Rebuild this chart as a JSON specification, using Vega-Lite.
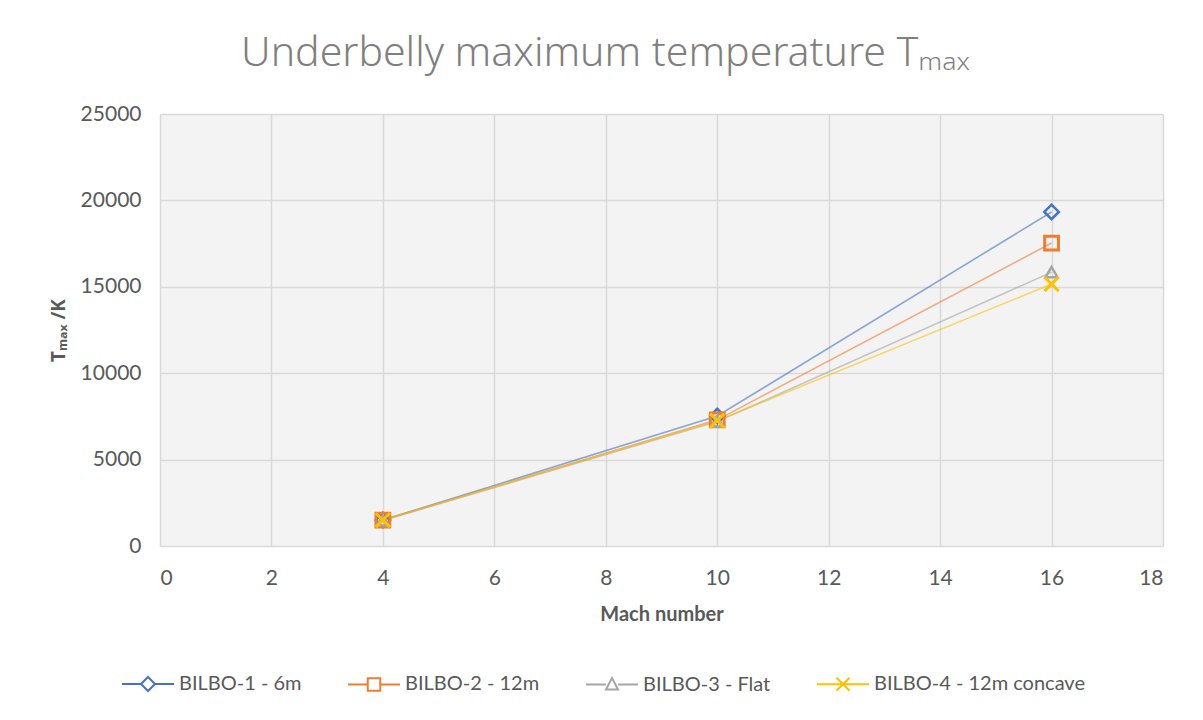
{
  "$schema": "https://vega.github.io/schema/vega-lite/v6.json",
  "autosize": {"type": "none"},
  "width": 1003,
  "height": 432,
  "padding": {"left": 160, "top": 114, "right": 40, "bottom": 174},
  "background": "white",
  "config": {
    "font": "Lato",
    "view": {"fill": "#f3f3f3", "stroke": null},
    "axis": {"labelColor": "#595959", "titleColor": "#595959", "gridColor": "#d9d9d9", "gridWidth": 1.5, "domain": false, "ticks": false}
  },
  "title": {
    "text": "Underbelly maximum temperature Tₘₐₓ",
    "font": "Noto Sans",
    "fontSize": 41,
    "fontWeight": 300,
    "color": "#7f7f7f",
    "anchor": "middle",
    "dx": -56,
    "offset": 28
  },
  "data": {
    "values": [
      {"series": "BILBO-1 - 6m", "mach": 4, "T": 1500},
      {"series": "BILBO-1 - 6m", "mach": 10, "T": 7520},
      {"series": "BILBO-1 - 6m", "mach": 16, "T": 19330},
      {"series": "BILBO-2 - 12m", "mach": 4, "T": 1500},
      {"series": "BILBO-2 - 12m", "mach": 10, "T": 7300},
      {"series": "BILBO-2 - 12m", "mach": 16, "T": 17530},
      {"series": "BILBO-3 - Flat", "mach": 4, "T": 1480},
      {"series": "BILBO-3 - Flat", "mach": 10, "T": 7200},
      {"series": "BILBO-3 - Flat", "mach": 16, "T": 15850},
      {"series": "BILBO-4 - 12m concave", "mach": 4, "T": 1500},
      {"series": "BILBO-4 - 12m concave", "mach": 10, "T": 7250},
      {"series": "BILBO-4 - 12m concave", "mach": 16, "T": 15160}
    ]
  },
  "encoding": {
    "x": {
      "field": "mach", "type": "quantitative",
      "scale": {"domain": [0, 18], "nice": false},
      "axis": {"values": [0, 2, 4, 6, 8, 10, 12, 14, 16, 18], "title": "Mach number", "labelFontSize": 21, "titleFontSize": 20, "titleFontWeight": "bold", "labelPadding": 21, "titlePadding": 16}
    },
    "y": {
      "field": "T", "type": "quantitative",
      "scale": {"domain": [0, 25000], "nice": false},
      "axis": {"values": [0, 5000, 10000, 15000, 20000, 25000], "format": "d", "title": "Tₘₐₓ /K", "titleFont": "Noto Sans", "labelFontSize": 21, "titleFontSize": 19, "titleFontWeight": "bold", "labelPadding": 19, "titlePadding": 12}
    },
    "color": {"field": "series", "type": "nominal",
      "scale": {"domain": ["BILBO-1 - 6m", "BILBO-2 - 12m", "BILBO-3 - Flat", "BILBO-4 - 12m concave"], "range": ["#4472c4", "#ed7d31", "#a5a5a5", "#ffc000"]},
      "legend": {"orient": "none", "legendX": -22, "legendY": 560, "direction": "horizontal", "columns": 4, "title": null,
        "symbolSize": 100, "symbolStrokeWidth": 2, "symbolFillColor": "white", "symbolOpacity": 1,
        "labelFontSize": 20, "labelColor": "#595959", "labelOffset": 21, "columnPadding": 42, "labelLimit": 400}}
  },
  "layer": [
    {
      "mark": {"type": "line", "strokeWidth": 1.6, "opacity": 0.6}
    },
    {
      "transform": [{"filter": "datum.series === 'BILBO-1 - 6m'"}],
      "mark": {"type": "point", "shape": "diamond", "size": 210, "strokeWidth": 2.5, "filled": false, "opacity": 1}
    },
    {
      "transform": [{"filter": "datum.series === 'BILBO-2 - 12m'"}],
      "mark": {"type": "point", "shape": "square", "size": 190, "strokeWidth": 3, "filled": false, "opacity": 1}
    },
    {
      "transform": [{"filter": "datum.series === 'BILBO-3 - Flat'"}],
      "mark": {"type": "point", "shape": "triangle-up", "size": 140, "strokeWidth": 2.5, "filled": false, "opacity": 1}
    },
    {
      "transform": [{"filter": "datum.series === 'BILBO-4 - 12m concave'"}],
      "mark": {"type": "point", "shape": "M-1,-1L1,1M-1,1L1,-1", "size": 200, "strokeWidth": 3, "filled": false, "opacity": 1}
    },
    {
      "mark": {"type": "point", "filled": false, "opacity": 0, "strokeWidth": 2},
      "encoding": {
        "shape": {"field": "series", "type": "nominal",
          "scale": {"domain": ["BILBO-1 - 6m", "BILBO-2 - 12m", "BILBO-3 - Flat", "BILBO-4 - 12m concave"],
            "range": [
              "M-5.2,0H-1.4M-1.4,0L0,-1.4L1.4,0L0,1.4ZM1.4,0H5.2",
              "M-5.2,0H-1.25M-1.25,-1.25H1.25V1.25H-1.25ZM1.25,0H5.2",
              "M-5.2,0H-1.2M0,-1.3L1.2,1H-1.2ZM1.2,0H5.2",
              "M-5.2,0H5.2M-1.3,-1.3L1.3,1.3M-1.3,1.3L1.3,-1.3"
            ]},
          "legend": {"orient": "none", "legendX": -22, "legendY": 560, "direction": "horizontal", "columns": 4, "title": null,
            "symbolSize": 100, "symbolStrokeWidth": 2, "symbolFillColor": "white", "symbolOpacity": 1,
            "labelFontSize": 20, "labelColor": "#595959", "labelOffset": 21, "columnPadding": 42, "labelLimit": 400}}
      }
    }
  ]
}
